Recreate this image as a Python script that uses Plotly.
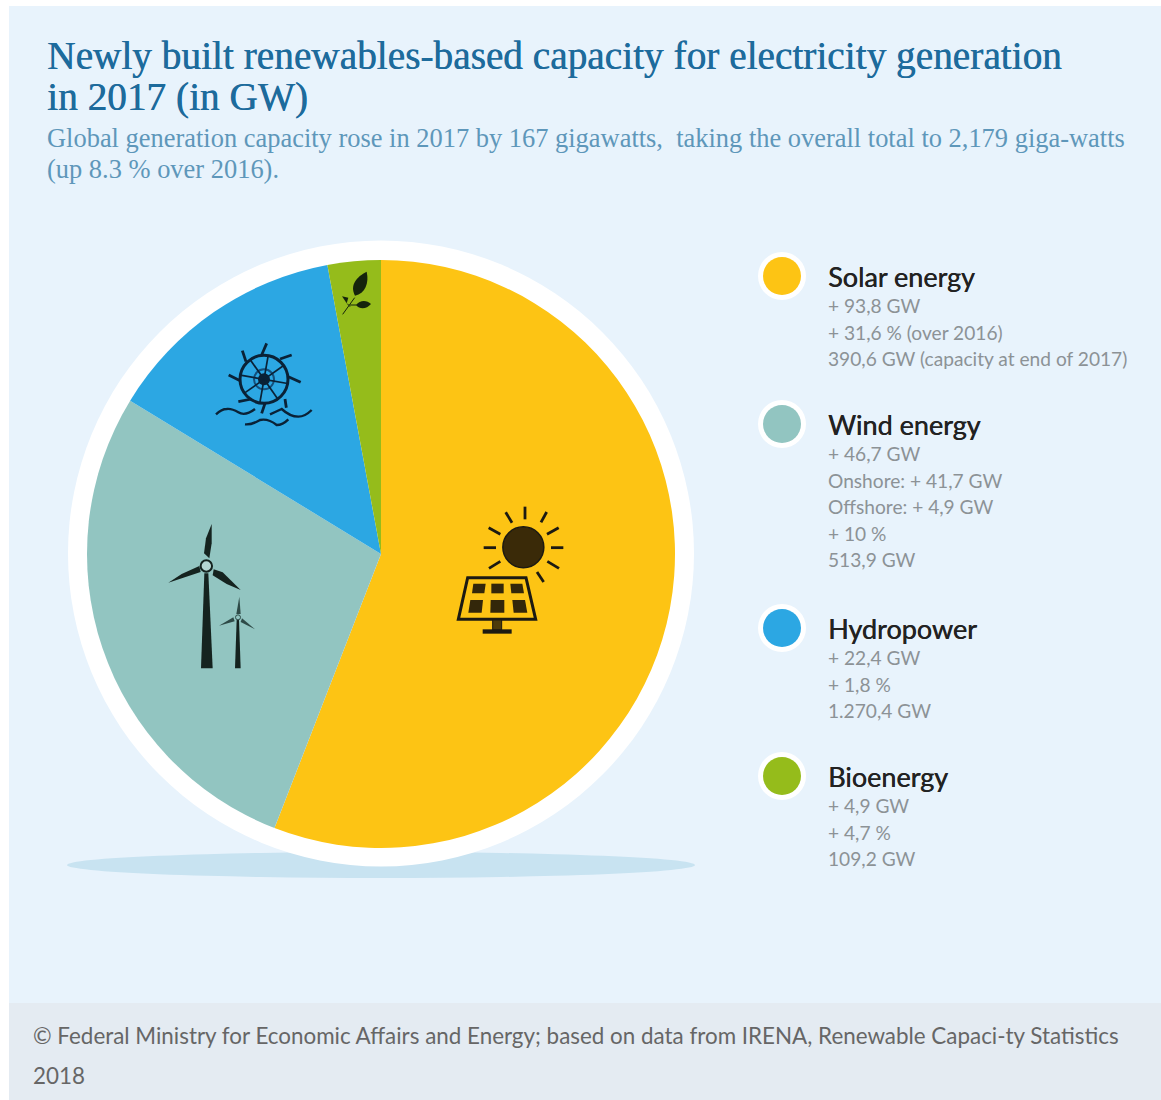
import math
import re
import plotly.graph_objects as go

W, H = 1161, 1100

# ---- data ----
categories = ["Solar energy", "Wind energy", "Hydropower", "Bioenergy"]
added_gw = [93.8, 46.7, 22.4, 4.9]
colors = ["#FDC414", "#92C5C1", "#2CA7E3", "#95BC1B"]
detail_lines = [
    ["+ 93,8 GW", "+ 31,6 % (over 2016)", "390,6 GW (capacity at end of 2017)"],
    ["+ 46,7 GW", "Onshore: + 41,7 GW", "Offshore: + 4,9 GW", "+ 10 %", "513,9 GW"],
    ["+ 22,4 GW", "+ 1,8 %", "1.270,4 GW"],
    ["+ 4,9 GW", "+ 4,7 %", "109,2 GW"],
]
title_lines = ["Newly built renewables-based capacity for electricity generation", "in 2017 (in GW)"]
subtitle_lines = [
    "Global generation capacity rose in 2017 by 167 gigawatts,  taking the overall total to 2,179 giga-watts",
    "(up 8.3 % over 2016).",
]
footer_lines = [
    "© Federal Ministry for Economic Affairs and Energy; based on data from IRENA, Renewable Capaci-ty Statistics",
    "2018",
]

# ---- layout geometry (pixels) ----
CX, CY, R = 381, 554, 294
INK = "#1c1a12"
shapes, annotations = [], []


def fx(x):
    return x / W


def fy(y):
    return 1 - y / H


def rect(x0, y0, x1, y1, color, layer="below"):
    shapes.append(dict(type="rect", xref="paper", yref="paper", x0=fx(x0), x1=fx(x1), y0=fy(y0), y1=fy(y1),
                       fillcolor=color, line_width=0, layer=layer))


def oval(cx, cy, rx, ry, fill, layer="below", line=None, lw=0):
    shapes.append(dict(type="circle", xref="paper", yref="paper", x0=fx(cx - rx), x1=fx(cx + rx),
                       y0=fy(cy - ry), y1=fy(cy + ry), fillcolor=fill, layer=layer,
                       line=dict(color=line or "rgba(0,0,0,0)", width=lw)))


def path(d, ox, oy, fill=None, line=None, lw=0):
    """Icon outline given in zoomed (3x) pixels with origin (ox, oy)."""
    def conv(m):
        return f"{fx(ox + float(m[1]) / 3):.6f},{fy(oy + float(m[2]) / 3):.6f}"
    shapes.append(dict(type="path", xref="paper", yref="paper", path=re.sub(r"(-?[\d.]+),(-?[\d.]+)", conv, d),
                       fillcolor=fill or "rgba(0,0,0,0)", layer="above",
                       line=dict(color=line or "rgba(0,0,0,0)", width=lw)))


def text(x, y, s, size, color, family, weight=400, shadow=None):
    font = dict(size=size, color=color, family=family, weight=weight)
    if shadow:
        font["shadow"] = shadow
    annotations.append(dict(xref="paper", yref="paper", x=fx(x), y=fy(y), text=s, showarrow=False,
                            xanchor="left", yanchor="middle", align="left", borderpad=0, font=font))


# ---- panels ----
rect(9, 6, W, 1003, "#E8F3FC")
rect(9, 1003, W, H, "#E4EBF2")
oval(381, 865, 314, 13, "#C8E3F1")
oval(CX, 553.5, 313, 313, "#FFFFFF")

# ---- heading ----
SERIF = "Liberation Serif"
SANS = "Lato"
for y, s in zip([56, 97], title_lines):
    text(46, y, s, 39.3, "#1D6B9C", SERIF, 400, "0.5px 0 0 #1D6B9C")
for y, s in zip([138, 169], subtitle_lines):
    text(46, y, s, 26.45, "#5E97BA", SERIF)

# ---- legend ----
heading_y = [276, 424, 628, 776]
for cat, col, lines, y0 in zip(categories, colors, detail_lines, heading_y):
    oval(782, y0, 24, 24, "#FFFFFF")
    oval(782, y0, 19, 19, col)
    text(827, y0, cat, 27, "#222222", SANS, 400, "0.4px 0 0 #222222")
    y = y0 + 29.5
    for ln in lines:
        text(827, y, ln, 19.15, "#8C9296", SANS)
        y += 26.6

# ---- footer ----
for y, s in zip([1035, 1075], footer_lines):
    text(32, y, s, 22.4, "#666666", "Lato")

# ---- solar icon ----
SOx, SOy = 440, 490
oval(SOx + 250 / 3, SOy + 172 / 3, 20.5, 20.5, "#3A2A08", "above", INK, 1.5)
for d in ["255,50 255,88", "197,67 216,98", "303,97 320,66", "146,113 181,133", "321,133 356,113",
          "131,173 168,173", "333,173 370,173", "147,235 181,214", "322,214 357,235", "291,246 311,276"]:
    a, b = d.split()
    path(f"M{a} L{b}", SOx, SOy, line=INK, lw=2.8)
path("M83,263 L258,263 L287,388 L55,388 Z", SOx, SOy, line=INK, lw=3)
for c in ["100,281 137,281 133,310 96,310", "154,281 191,281 191,310 154,310", "211,281 247,281 252,310 214,310",
          "91,330 129,330 125,368 85,368", "152,330 193,330 193,368 151,368", "217,330 255,330 262,368 221,368"]:
    a, b, cc, e = c.split()
    path(f"M{a} L{b} L{cc} L{e} Z", SOx, SOy, fill="#33270A")
path("M158,390 L185,390 L185,420 L158,420 Z", SOx, SOy, fill="#4D3B0A", line=INK, lw=1)
path("M128,418 L215,418 L215,431 L128,431 Z", SOx, SOy, fill=INK)

# ---- wind icon ----
WOx, WOy = 150, 510
TEAL_INK = "#15231F"
path("M163,190 L175,190 L188,475 L153,475 Z", WOx, WOy, fill=TEAL_INK)
path("M162,130 L168,85 L185,42 L185,100 L178,145 Z", WOx, WOy, fill=TEAL_INK)
path("M148,168 L152,186 L100,203 L55,218 L95,192 Z", WOx, WOy, fill=TEAL_INK)
path("M191,178 L218,187 L272,240 L230,222 L188,196 Z", WOx, WOy, fill=TEAL_INK)
oval(WOx + 169 / 3, WOy + 168 / 3, 5.7, 5.7, "#B4D6D2", "above", TEAL_INK, 2)
path("M260,330 L267,330 L272,475 L255,475 Z", WOx, WOy, fill=TEAL_INK)
path("M259,312 L268,260 L272,312 Z", WOx, WOy, fill="#2E4A47")
path("M250,322 L207,347 L254,334 Z", WOx, WOy, fill="#2E4A47")
path("M276,325 L315,358 L272,336 Z", WOx, WOy, fill="#2E4A47")
oval(WOx + 264 / 3, WOy + 322 / 3, 2.5, 2.5, "#92C5C1", "above", "#2E4A47", 1)

# ---- hydro icon ----
HOx, HOy = 210, 255
HUB = (162, 373)
HINK = "#0A2237"
oval(HOx + HUB[0] / 3, HOy + HUB[1] / 3, 24, 24, "rgba(0,0,0,0)", "above", HINK, 3)
oval(HOx + HUB[0] / 3, HOy + HUB[1] / 3, 10, 10, "rgba(0,0,0,0)", "above", "#14507C", 2)
oval(HOx + HUB[0] / 3, HOy + HUB[1] / 3, 6, 6, HINK, "above")
for k in range(8):
    ang = math.radians(10 + 45 * k)
    x = HUB[0] + 72 * math.cos(ang)
    y = HUB[1] + 72 * math.sin(ang)
    path(f"M{HUB[0]},{HUB[1]} L{x:.1f},{y:.1f}", HOx, HOy, line=HINK, lw=1.7)
for d in ["170,265 155,300", "245,300 210,312", "272,382 235,365", "225,432 229,458",
          "165,445 155,475", "85,440 125,432", "56,360 92,378", "97,287 108,320"]:
    a, b = d.split()
    path(f"M{a} L{b}", HOx, HOy, line=HINK, lw=2.8)
for d in ["M18,478 Q35,462 50,462 Q65,460 85,472 Q105,485 135,462",
          "M180,478 Q198,470 215,462 Q240,485 265,485 Q285,485 305,465",
          "M105,508 Q125,510 150,495 Q175,490 200,510 Q218,510 235,493"]:
    path(d, HOx, HOy, line=HINK, lw=2.4)

# ---- bio icon ----
LEAF = "#15240C"
path("M435,122 C418,90 440,65 470,50 C478,85 465,115 435,122 Z", HOx, HOy, fill=LEAF)
path("M438,150 C450,135 470,135 483,147 C470,162 450,165 438,150 Z", HOx, HOy, fill=LEAF)
path("M396,124 L415,128 L410,145 Z", HOx, HOy, fill=LEAF)
path("M398,178 L434,128 M420,150 L440,150 M412,146 L420,155", HOx, HOy, line=LEAF, lw=1)

# ---- figure ----
fig = go.Figure(go.Pie(
    labels=categories, values=added_gw, sort=False, direction="clockwise", rotation=0,
    marker=dict(colors=colors, line=dict(width=0)), textinfo="none", showlegend=False,
    domain=dict(x=[(CX - R) / W, (CX + R) / W], y=[1 - (CY + R) / H, 1 - (CY - R) / H]),
))
fig.update_layout(width=W, height=H, margin=dict(l=0, r=0, t=0, b=0), autosize=False,
                  paper_bgcolor="#FFFFFF", plot_bgcolor="#FFFFFF", shapes=shapes, annotations=annotations)
fig.write_html("out.html", config=dict(displayModeBar=False),
               post_script="document.body.style.margin='0';document.documentElement.style.overflow='hidden';")
